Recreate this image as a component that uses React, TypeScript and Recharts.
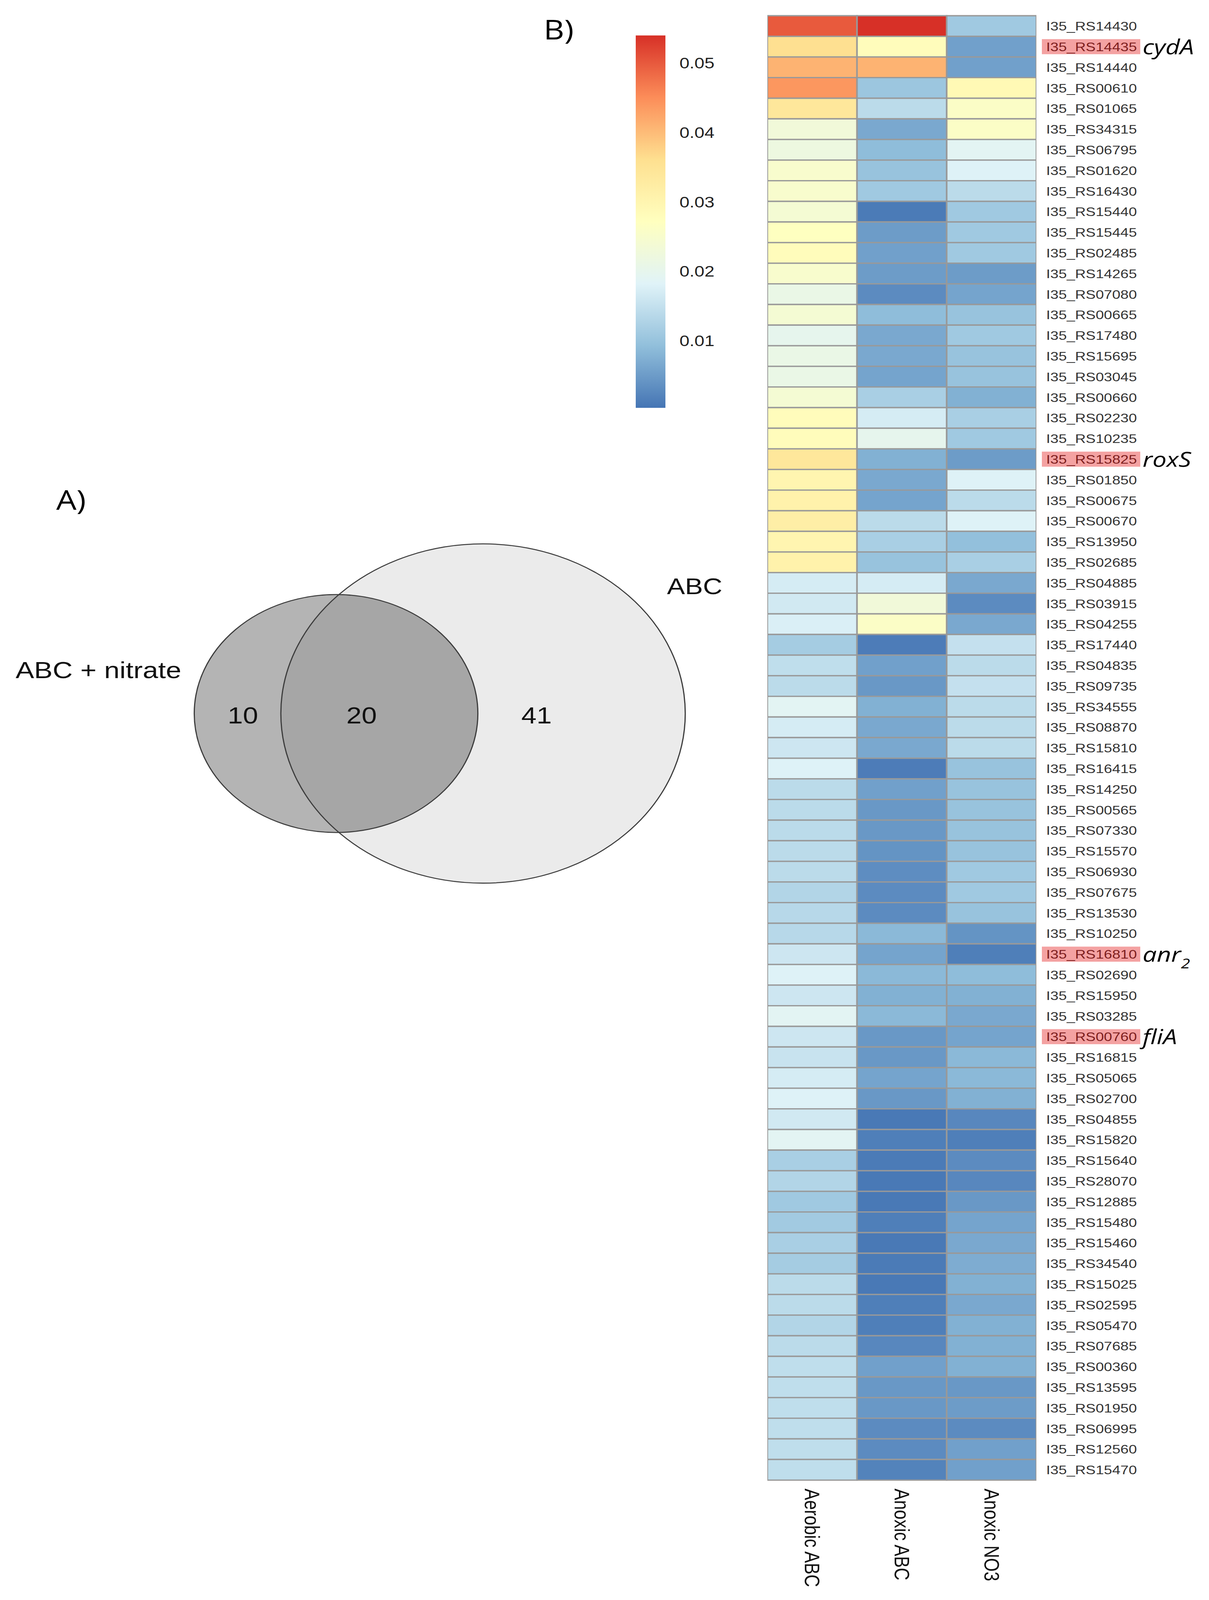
import React from "react";
import { BarChart, Bar, Cell, XAxis, YAxis, ScatterChart, Scatter } from "recharts";

const GENES = [
  "I35_RS14430", "I35_RS14435", "I35_RS14440", "I35_RS00610", "I35_RS01065", "I35_RS34315",
  "I35_RS06795", "I35_RS01620", "I35_RS16430", "I35_RS15440", "I35_RS15445", "I35_RS02485",
  "I35_RS14265", "I35_RS07080", "I35_RS00665", "I35_RS17480", "I35_RS15695", "I35_RS03045",
  "I35_RS00660", "I35_RS02230", "I35_RS10235", "I35_RS15825", "I35_RS01850", "I35_RS00675",
  "I35_RS00670", "I35_RS13950", "I35_RS02685", "I35_RS04885", "I35_RS03915", "I35_RS04255",
  "I35_RS17440", "I35_RS04835", "I35_RS09735", "I35_RS34555", "I35_RS08870", "I35_RS15810",
  "I35_RS16415", "I35_RS14250", "I35_RS00565", "I35_RS07330", "I35_RS15570", "I35_RS06930",
  "I35_RS07675", "I35_RS13530", "I35_RS10250", "I35_RS16810", "I35_RS02690", "I35_RS15950",
  "I35_RS03285", "I35_RS00760", "I35_RS16815", "I35_RS05065", "I35_RS02700", "I35_RS04855",
  "I35_RS15820", "I35_RS15640", "I35_RS28070", "I35_RS12885", "I35_RS15480", "I35_RS15460",
  "I35_RS34540", "I35_RS15025", "I35_RS02595", "I35_RS05470", "I35_RS07685", "I35_RS00360",
  "I35_RS13595", "I35_RS01950", "I35_RS06995", "I35_RS12560", "I35_RS15470",
];

const CONDITIONS = ["Aerobic ABC", "Anoxic ABC", "Anoxic NO3"];

const AEROBIC_ABC = [
  0.05, 0.036, 0.041, 0.044, 0.034, 0.023, 0.022, 0.025, 0.025, 0.024, 0.027, 0.028,
  0.025, 0.021, 0.024, 0.02, 0.021, 0.021, 0.024, 0.028, 0.028, 0.034, 0.03, 0.031,
  0.032, 0.03, 0.031, 0.017, 0.0165, 0.0175, 0.0115, 0.0145, 0.014, 0.019, 0.017, 0.016,
  0.018, 0.014, 0.014, 0.014, 0.014, 0.014, 0.013, 0.0135, 0.0135, 0.016, 0.018, 0.016,
  0.019, 0.016, 0.0155, 0.017, 0.018, 0.0165, 0.019, 0.012, 0.013, 0.011, 0.0112, 0.012,
  0.0115, 0.014, 0.014, 0.013, 0.014, 0.0145, 0.0145, 0.0145, 0.0145, 0.0145, 0.0145,
];

const ANOXIC_ABC = [
  0.054, 0.028, 0.041, 0.0105, 0.014, 0.0065, 0.009, 0.01, 0.011, 0.001, 0.005, 0.0055,
  0.005, 0.003, 0.009, 0.0065, 0.0065, 0.006, 0.012, 0.017, 0.02, 0.0075, 0.0065, 0.006,
  0.014, 0.012, 0.01, 0.017, 0.023, 0.026, 0.0012, 0.0055, 0.0045, 0.0075, 0.0065, 0.0065,
  0.0012, 0.0055, 0.0045, 0.0045, 0.004, 0.0032, 0.003, 0.003, 0.0085, 0.006, 0.0085, 0.0075,
  0.0085, 0.0045, 0.0045, 0.006, 0.0045, 0.0008, 0.0015, 0.001, 0.0008, 0.0008, 0.0015, 0.0008,
  0.001, 0.0008, 0.0015, 0.0015, 0.0025, 0.0055, 0.0045, 0.0045, 0.003, 0.003, 0.002,
];

const ANOXIC_NO3 = [
  0.011, 0.0055, 0.0055, 0.029, 0.026, 0.026, 0.019, 0.018, 0.014, 0.011, 0.011, 0.011,
  0.005, 0.006, 0.01, 0.011, 0.01, 0.01, 0.0075, 0.012, 0.011, 0.005, 0.018, 0.014,
  0.018, 0.0095, 0.012, 0.0065, 0.003, 0.0065, 0.015, 0.014, 0.015, 0.014, 0.014, 0.014,
  0.01, 0.01, 0.01, 0.01, 0.01, 0.011, 0.011, 0.01, 0.004, 0.0015, 0.009, 0.0075,
  0.0065, 0.006, 0.0085, 0.0085, 0.0075, 0.0025, 0.0015, 0.003, 0.0025, 0.0045, 0.006, 0.0065,
  0.007, 0.0075, 0.0065, 0.0075, 0.0075, 0.0075, 0.0045, 0.005, 0.003, 0.0055, 0.0055,
];

// genes marked in the figure, with their gene names
const HIGHLIGHTS: Record<string, { name: string; sub?: string }> = {
  I35_RS14435: { name: "cydA" },
  I35_RS15825: { name: "roxS" },
  I35_RS16810: { name: "anr", sub: "2" },
  I35_RS00760: { name: "fliA" },
};

const LEGEND_TICKS = [0.01, 0.02, 0.03, 0.04, 0.05];
const SCALE_MIN = 0.0003;
const SCALE_MAX = 0.054;
const PALETTE = ["#4575B4", "#91BFDB", "#E0F3F8", "#FFFFBF", "#FEE090", "#FC8D59", "#D73027"];

const VENN_SETS = ["ABC + nitrate", "ABC"];
const VENN_COUNTS = [10, 20, 41]; // nitrate only, both, ABC only

const PAGE_W = 3096;
const PAGE_H = 4884;

const hexToRgb = (h: string) => [1, 3, 5].map((i) => parseInt(h.slice(i, i + 2), 16));

function heatColor(v: number) {
  const t = Math.min(Math.max((v - SCALE_MIN) / (SCALE_MAX - SCALE_MIN), 0), 1) * (PALETTE.length - 1);
  const i = Math.min(Math.floor(t), PALETTE.length - 2);
  const f = t - i;
  const a = hexToRgb(PALETTE[i]);
  const b = hexToRgb(PALETTE[i + 1]);
  const c = a.map((x, k) => Math.round(x + (b[k] - x) * f));
  return `rgb(${c[0]},${c[1]},${c[2]})`;
}

const heatRows = GENES.map((gene, i) => ({
  gene,
  aerobic: AEROBIC_ABC[i],
  anoxic: ANOXIC_ABC[i],
  no3: ANOXIC_NO3[i],
  u0: 1,
  u1: 1,
  u2: 1,
}));
const SERIES = [
  { unit: "u0", values: AEROBIC_ABC },
  { unit: "u1", values: ANOXIC_ABC },
  { unit: "u2", values: ANOXIC_NO3 },
];

// area-proportional venn: find the centre distance that gives the shared area
function lensArea(r1: number, r2: number, d: number) {
  if (d >= r1 + r2) return 0;
  if (d <= Math.abs(r1 - r2)) return Math.PI * Math.min(r1, r2) ** 2;
  const a1 = Math.acos((d * d + r1 * r1 - r2 * r2) / (2 * d * r1));
  const a2 = Math.acos((d * d + r2 * r2 - r1 * r1) / (2 * d * r2));
  const k = Math.sqrt((-d + r1 + r2) * (d + r1 - r2) * (d - r1 + r2) * (d + r1 + r2));
  return r1 * r1 * a1 + r2 * r2 * a2 - k / 2;
}

const VENN_K = 66.3;
const rBig = VENN_K * Math.sqrt(VENN_COUNTS[1] + VENN_COUNTS[2]);
const rSmall = VENN_K * Math.sqrt(VENN_COUNTS[0] + VENN_COUNTS[1]);
const targetShared = (Math.PI * rBig * rBig * VENN_COUNTS[1]) / (VENN_COUNTS[1] + VENN_COUNTS[2]);
let lo = Math.abs(rBig - rSmall);
let hi = rBig + rSmall;
for (let i = 0; i < 60; i++) {
  const mid = (lo + hi) / 2;
  if (lensArea(rBig, rSmall, mid) > targetShared) lo = mid;
  else hi = mid;
}
const vennDist = (lo + hi) / 2;
const VENN_CX = 1237;
const VENN_CY = 778;

const bigCircle = [{ x: VENN_CX, y: VENN_CY, r: rBig }];
const smallCircle = [{ x: VENN_CX - vennDist, y: VENN_CY, r: rSmall }];
const vennText = [
  { x: 622, y: 783, text: String(VENN_COUNTS[0]), anchor: "middle", size: 70 },
  { x: 926, y: 783, text: String(VENN_COUNTS[1]), anchor: "middle", size: 70 },
  { x: 1374, y: 783, text: String(VENN_COUNTS[2]), anchor: "middle", size: 70 },
  { x: 40, y: 644, text: VENN_SETS[0], anchor: "start", size: 71 },
  { x: 1708, y: 389, text: VENN_SETS[1], anchor: "start", size: 69 },
];

const SANS = "'Liberation Sans', Arial, sans-serif";
const HUMAN = "'Open Sans', 'Noto Sans', sans-serif";

function GeneTick(props: any) {
  const { x, y, payload } = props;
  const hl = HIGHLIGHTS[payload.value];
  return (
    <g>
      {hl && <rect x={x + 14} y={y - 23} width={252} height={46} fill="#F4A2A2" />}
      <text x={x + 25} y={y} dy="0.36em" fontSize={38} fontFamily={SANS} fill={hl ? "#7E1E1E" : "#333333"} textAnchor="start">
        {payload.value}
      </text>
      {hl && (
        <text x={x + 272} y={y} dy="0.36em" fontSize={64} fontStyle="italic" fontFamily={HUMAN} fill="#000" textAnchor="start">
          {hl.name}
          {hl.sub && (
            <tspan fontSize={42} dy={20}>
              {hl.sub}
            </tspan>
          )}
        </text>
      )}
    </g>
  );
}

function ConditionTick(props: any) {
  const { x, y, payload } = props;
  const label = CONDITIONS[Math.floor(payload.value)];
  return (
    <text transform={`translate(${x},${y + 26}) rotate(90)`} textAnchor="start" dominantBaseline="central" fontSize={53} fontFamily={SANS} fill="#111">
      {label}
    </text>
  );
}

function LegendTick(props: any) {
  const { x, y, payload } = props;
  return (
    <text x={x + 36} y={y} dy="0.36em" fontSize={46} fontFamily={SANS} fill="#222" textAnchor="start">
      {payload.value.toFixed(2)}
    </text>
  );
}

function Heatmap() {
  return (
    <BarChart
      width={1131}
      height={PAGE_H}
      data={heatRows}
      layout="vertical"
      margin={{ top: 48, right: 0, bottom: 0, left: 0 }}
      barCategoryGap={0}
      barGap={0}
    >
      <XAxis
        type="number"
        domain={[0, 3]}
        ticks={[0.5, 1.5, 2.5]}
        height={366}
        axisLine={false}
        tickLine={false}
        tickSize={0}
        tickMargin={0}
        allowDataOverflow
        tick={(p: any) => <ConditionTick {...p} />}
      />
      <YAxis
        type="category"
        dataKey="gene"
        orientation="right"
        width={442}
        axisLine={false}
        tickLine={false}
        tickSize={0}
        tickMargin={0}
        interval={0}
        tick={(p: any) => <GeneTick {...p} />}
      />
      {SERIES.map((s) => (
        <Bar key={s.unit} dataKey={s.unit} stackId="h" stroke="#999999" strokeWidth={4} isAnimationActive={false}>
          {s.values.map((v, i) => (
            <Cell key={`c-${s.unit}-${i}`} fill={heatColor(v)} />
          ))}
        </Bar>
      ))}
    </BarChart>
  );
}

function ColorKey() {
  return (
    <BarChart
      width={276}
      height={1137}
      data={[{ name: "scale", range: [SCALE_MIN, SCALE_MAX] }]}
      margin={{ top: 0, right: 0, bottom: 0, left: 0 }}
      barCategoryGap={0}
    >
      <defs>
        <linearGradient id="heatGrad" x1="0" y1="1" x2="0" y2="0">
          {PALETTE.map((c, i) => (
            <stop key={c} offset={i / (PALETTE.length - 1)} stopColor={c} />
          ))}
        </linearGradient>
      </defs>
      <XAxis dataKey="name" hide />
      <YAxis
        type="number"
        domain={[SCALE_MIN, SCALE_MAX]}
        orientation="right"
        width={200}
        ticks={LEGEND_TICKS}
        axisLine={false}
        tickLine={false}
        tickSize={0}
        tickMargin={0}
        allowDataOverflow
        tick={(p: any) => <LegendTick {...p} />}
      />
      <Bar dataKey="range" fill="url(#heatGrad)" isAnimationActive={false} />
    </BarChart>
  );
}

function Venn() {
  return (
    <ScatterChart width={1900} height={1400} margin={{ top: 0, right: 0, bottom: 0, left: 0 }}>
      <XAxis type="number" dataKey="x" domain={[0, 1900]} hide allowDataOverflow />
      <YAxis type="number" dataKey="y" domain={[0, 1400]} reversed hide allowDataOverflow />
      <Scatter
        data={bigCircle}
        isAnimationActive={false}
        shape={(p: any) => (
          <g>
            <defs>
              <clipPath id="vennBigClip">
                <circle cx={p.cx} cy={p.cy} r={p.payload.r} />
              </clipPath>
            </defs>
            <circle cx={p.cx} cy={p.cy} r={p.payload.r} fill="#EBEBEB" />
          </g>
        )}
      />
      <Scatter
        data={smallCircle}
        isAnimationActive={false}
        shape={(p: any) => (
          <g>
            <circle cx={p.cx} cy={p.cy} r={p.payload.r} fill="#B4B4B4" />
            <circle cx={p.cx} cy={p.cy} r={p.payload.r} fill="#A6A6A6" clipPath="url(#vennBigClip)" />
            <circle cx={p.cx} cy={p.cy} r={p.payload.r} fill="none" stroke="#3C3C3C" strokeWidth={3} />
          </g>
        )}
      />
      <Scatter
        data={bigCircle}
        isAnimationActive={false}
        shape={(p: any) => <circle cx={p.cx} cy={p.cy} r={p.payload.r} fill="none" stroke="#3C3C3C" strokeWidth={3} />}
      />
      <Scatter
        data={vennText}
        isAnimationActive={false}
        shape={(p: any) => (
          <text x={p.cx} y={p.cy} dy="0.36em" textAnchor={p.payload.anchor} fontSize={p.payload.size} fontFamily={SANS} fill="#111">
            {p.payload.text}
          </text>
        )}
      />
    </ScatterChart>
  );
}

export default function App() {
  // the browser viewport can be shorter than the figure; squeeze vertically so all of it stays in view
  const fitY = typeof window !== "undefined" && window.innerHeight > 0 ? Math.min(1, window.innerHeight / PAGE_H) : 1;
  return (
    <div
      style={{
        position: "absolute",
        left: 0,
        top: 0,
        width: PAGE_W,
        height: PAGE_H,
        background: "#fff",
        overflow: "hidden",
        transform: `scale(1, ${fitY})`,
        transformOrigin: "0 0",
      }}
    >
      <div style={{ position: "absolute", left: 0, top: 1400 }}>
        <Venn />
      </div>
      <div style={{ position: "absolute", left: 1628, top: 108 }}>
        <ColorKey />
      </div>
      <div style={{ position: "absolute", left: 1965, top: 0 }}>
        <Heatmap />
      </div>
      <svg style={{ position: "absolute", left: 0, top: 0 }} width={PAGE_W} height={PAGE_H} pointerEvents="none">
        <text x={144} y={1556} fontSize={82} fontFamily={HUMAN} fill="#000">
          A)
        </text>
        <text x={1392} y={120} fontSize={82} fontFamily={HUMAN} fill="#000">
          B)
        </text>
      </svg>
    </div>
  );
}
